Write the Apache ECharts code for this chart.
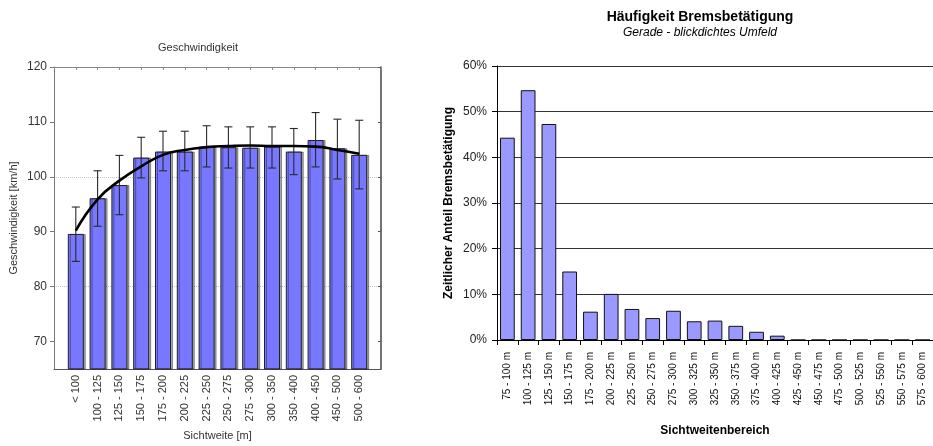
<!DOCTYPE html>
<html>
<head>
<meta charset="utf-8">
<title>Geschwindigkeit und Bremsbetätigung</title>
<script src="https://cdn.jsdelivr.net/npm/echarts@6/dist/echarts.min.js"></script>
<style>
  html, body { margin: 0; padding: 0; background: #fff; }
  #chart { width: 933px; height: 446px; }
</style>
</head>
<body>
<div id="chart"></div>
<script>
// ---- Left panel: mean speed per visibility class with standard deviation ----
const speedCategories = ['< 100', '100 - 125', '125 - 150', '150 - 175', '175 - 200', '200 - 225', '225 - 250',
  '250 - 275', '275 - 300', '300 - 350', '350 - 400', '400 - 450', '450 - 500', '500 - 600'];
const speedMean = [89.6, 96.1, 98.5, 103.5, 104.6, 104.6, 105.5, 105.4, 105.3, 105.5, 104.6, 106.7, 105.2, 104.0];
const speedHigh = [94.5, 101.1, 103.9, 107.2, 108.3, 108.3, 109.3, 109.1, 109.1, 109.1, 108.8, 111.7, 110.5, 110.3];
const speedLow = [84.6, 91.0, 93.1, 99.8, 101.1, 101.1, 101.8, 101.6, 101.6, 101.6, 100.4, 101.8, 99.6, 97.8];
const speedTrend = [90.2, 95.9, 99.3, 101.9, 104.0, 104.9, 105.4, 105.6, 105.7, 105.6, 105.6, 105.5, 104.9, 104.2];
const speedTicks = [70, 80, 90, 100, 110, 120];

// ---- Right panel: share of braking time per visibility range ----
const brakeCategories = ['75 - 100 m', '100 - 125 m', '125 - 150 m', '150 - 175 m', '175 - 200 m', '200 - 225 m',
  '225 - 250 m', '250 - 275 m', '275 - 300 m', '300 - 325 m', '325 - 350 m', '350 - 375 m', '375 - 400 m',
  '400 - 425 m', '425 - 450 m', '450 - 475 m', '475 - 500 m', '500 - 525 m', '525 - 550 m', '550 - 575 m',
  '575 - 600 m'];
const brakeShare = [44.3, 54.7, 47.3, 15.0, 6.2, 10.1, 6.8, 4.8, 6.4, 4.1, 4.25, 3.1, 1.8, 0.95,
  0, 0, 0, 0, 0, 0, 0];

const FONT = "'Liberation Sans', Arial, sans-serif";

const speedBars = speedMean.map((v, i) => [i, v]);
const speedErr = speedMean.map((v, i) => [i, speedLow[i], speedHigh[i]]);
const speedLine = speedTrend.map((v, i) => [i, v]);

function renderErrorBar(params, api) {
  const x = api.value(0);
  const lo = api.coord([x, api.value(1)]);
  const hi = api.coord([x, api.value(2)]);
  const cap = 4;
  const style = { stroke: '#2a2a2a', lineWidth: 1.1 };
  return {
    type: 'group',
    children: [
      { type: 'line', shape: { x1: hi[0], y1: hi[1], x2: lo[0], y2: lo[1] }, style },
      { type: 'line', shape: { x1: hi[0] - cap, y1: hi[1], x2: hi[0] + cap, y2: hi[1] }, style },
      { type: 'line', shape: { x1: lo[0] - cap, y1: lo[1], x2: lo[0] + cap, y2: lo[1] }, style }
    ]
  };
}

const chart = echarts.init(document.getElementById('chart'), null, { renderer: 'canvas' });

chart.setOption({
  animation: false,
  backgroundColor: '#ffffff',
  textStyle: { fontFamily: FONT },
  graphic: [
    { type: 'text', x: 198, y: 48, style: { text: 'Geschwindigkeit', align: 'center', verticalAlign: 'middle',
        fontSize: 11, fontFamily: FONT, fill: '#333' } },
    { type: 'text', x: 700, y: 17, style: { text: 'Häufigkeit Bremsbetätigung', align: 'center', verticalAlign: 'middle',
        fontSize: 14, fontWeight: 'bold', fontFamily: FONT, fill: '#000' } },
    { type: 'text', x: 700, y: 33, style: { text: 'Gerade - blickdichtes Umfeld', align: 'center', verticalAlign: 'middle',
        fontSize: 12, fontStyle: 'italic', fontFamily: FONT, fill: '#000' } }
  ],
  grid: [
    { left: 54, top: 67, width: 327, height: 305 },
    { left: 497, top: 66, width: 445, height: 274 }
  ],
  xAxis: [
    {
      gridIndex: 0, type: 'value', min: -1, max: 14, interval: 1, position: 'bottom',
      axisLine: { show: true, onZero: false, lineStyle: { color: '#555', width: 1 } },
      axisTick: { show: false },
      splitLine: { show: false },
      axisLabel: {
        rotate: 90, margin: 6, fontSize: 11, color: '#333', fontFamily: FONT,
        formatter: v => (v >= 0 && v < speedCategories.length) ? speedCategories[v] : ''
      },
      name: 'Sichtweite [m]', nameLocation: 'middle', nameGap: 61,
      nameTextStyle: { fontSize: 11, color: '#333', fontFamily: FONT, verticalAlign: 'top' }
    },
    {
      gridIndex: 0, type: 'value', min: -1, max: 14, interval: 1, position: 'top',
      axisLine: { show: true, onZero: false, lineStyle: { color: '#888', width: 1 } },
      axisTick: { show: true, inside: true, length: 3, lineStyle: { color: '#888' } },
      splitLine: { show: false },
      axisLabel: { show: false }
    },
    {
      gridIndex: 1, type: 'category', data: brakeCategories, boundaryGap: true,
      axisLine: { show: true, onZero: false, lineStyle: { color: '#000', width: 1 } },
      axisTick: { show: true, length: 5, lineStyle: { color: '#000' } },
      splitLine: { show: false },
      axisLabel: { interval: 0, rotate: 90, margin: 12, fontSize: 10, color: '#111', fontFamily: FONT },
      name: 'Sichtweitenbereich', nameLocation: 'middle', nameGap: 85,
      nameTextStyle: { fontSize: 12, fontWeight: 'bold', color: '#000', fontFamily: FONT, verticalAlign: 'top' }
    }
  ],
  yAxis: [
    {
      gridIndex: 0, type: 'value', min: 65, max: 120, interval: 5, position: 'left',
      axisLine: { show: true, onZero: false, lineStyle: { color: '#777', width: 1 } },
      axisTick: { show: true, length: 4, customValues: speedTicks, lineStyle: { color: '#777' } },
      axisLabel: {
        customValues: speedTicks, margin: 7, fontSize: 12, color: '#333', fontFamily: FONT,
        formatter: v => (v % 10 === 0 ? String(v) : '')
      },
      splitLine: { show: true, lineStyle: { color: ['rgba(0,0,0,0)', '#c4c4c4'], type: 'dotted', width: 1 } },
      name: 'Geschwindigkeit [km/h]', nameLocation: 'middle', nameGap: 35, nameRotate: 90,
      nameTextStyle: { fontSize: 11, color: '#333', fontFamily: FONT }
    },
    {
      gridIndex: 0, type: 'value', min: 65, max: 120, interval: 5, position: 'right',
      axisLine: { show: true, onZero: false, lineStyle: { color: '#444', width: 1.5 } },
      axisTick: { show: true, inside: true, length: 3, customValues: speedTicks, lineStyle: { color: '#555' } },
      axisLabel: { show: false },
      splitLine: { show: false }
    },
    {
      gridIndex: 1, type: 'value', min: 0, max: 60, interval: 10,
      axisLine: { show: true, onZero: false, lineStyle: { color: '#000', width: 1 } },
      axisTick: { show: true, length: 5, lineStyle: { color: '#000' } },
      axisLabel: { margin: 10, fontSize: 12, color: '#222', fontFamily: FONT, formatter: '{value}%' },
      splitLine: { show: true, lineStyle: { color: '#333', width: 1 } },
      name: 'Zeitlicher Anteil Bremsbetätigung', nameLocation: 'middle', nameGap: 42, nameRotate: 90,
      nameTextStyle: { fontSize: 12, fontWeight: 'bold', color: '#000', fontFamily: FONT }
    }
  ],
  series: [
    {
      name: 'Geschwindigkeit', type: 'bar', xAxisIndex: 0, yAxisIndex: 0,
      data: speedBars, barWidth: 16, clip: true,
      itemStyle: {
        color: '#7777ff', borderColor: '#222', borderWidth: 1,
        shadowColor: 'rgba(0,0,0,0.35)', shadowOffsetX: 2, shadowOffsetY: 0, shadowBlur: 0
      },
      z: 2
    },
    {
      name: 'Standardabweichung', type: 'custom', xAxisIndex: 0, yAxisIndex: 0,
      data: speedErr, renderItem: renderErrorBar, encode: { x: 0, y: [1, 2] }, z: 3
    },
    {
      name: 'Trend', type: 'line', xAxisIndex: 0, yAxisIndex: 0,
      data: speedLine, smooth: true, symbol: 'none',
      lineStyle: { color: '#000', width: 2.6 }, z: 4
    },
    {
      name: 'Bremsbetätigung', type: 'bar', xAxisIndex: 2, yAxisIndex: 2,
      data: brakeShare, barWidth: '71%',
      itemStyle: { color: '#9999ff', borderColor: '#111', borderWidth: 1 },
      z: 2
    }
  ]
});
</script>
</body>
</html>
